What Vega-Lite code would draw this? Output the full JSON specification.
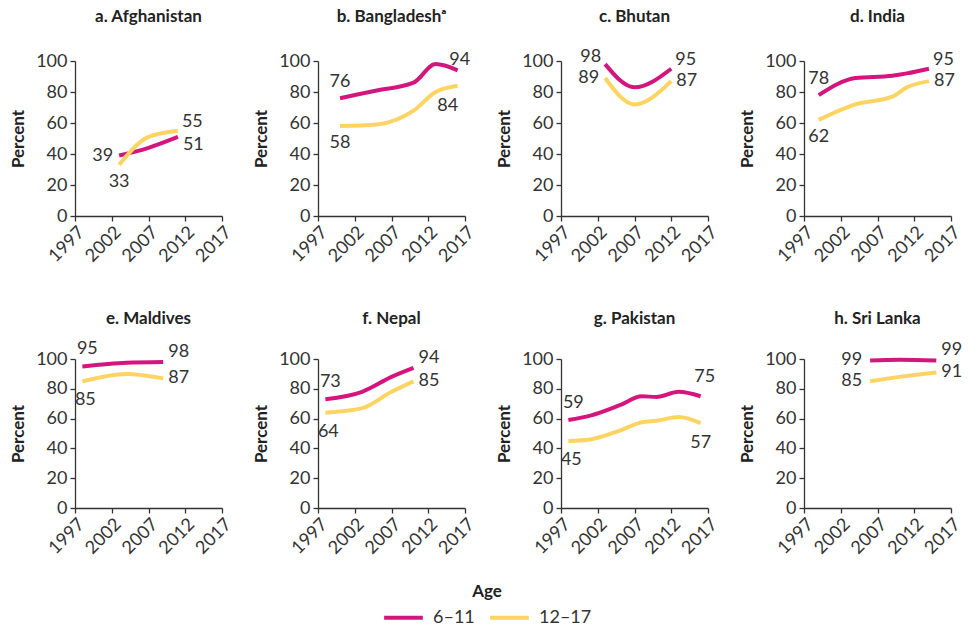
{
  "$schema": "https://vega.github.io/schema/vega-lite/v6.json",
  "background": "white",
  "padding": {"left": 9, "top": 8, "right": 5, "bottom": 0},
  "config": {
    "font": "Lato",
    "view": {"stroke": null},
    "axis": {
      "grid": false,
      "domainColor": "#333333",
      "tickColor": "#333333",
      "domainWidth": 1.3,
      "tickWidth": 1.3,
      "tickSize": 5,
      "labelColor": "#333333",
      "labelFontSize": 18,
      "labelFont": "Lato",
      "labelOverlap": false,
      "titleFont": "Lato",
      "titleFontSize": 17,
      "titleFontWeight": "bold",
      "titleColor": "#222222"
    },
    "legend": {"layout": {"bottom": {"anchor": "middle"}}},
    "header": {"labelFont": "Lato"},
    "text": {"font": "Lato", "fontSize": 18, "color": "#333333"}
  },
  "datasets": {
    "enrol": [
      {"country": "a. Afghanistan", "age": "6–11", "year": 2003, "value": 39},
      {"country": "a. Afghanistan", "age": "6–11", "year": 2007, "value": 44},
      {"country": "a. Afghanistan", "age": "6–11", "year": 2011, "value": 51},
      {"country": "a. Afghanistan", "age": "12–17", "year": 2003, "value": 33},
      {"country": "a. Afghanistan", "age": "12–17", "year": 2007, "value": 51},
      {"country": "a. Afghanistan", "age": "12–17", "year": 2011, "value": 55},
      {"country": "b. Bangladeshᵃ", "age": "6–11", "year": 2000, "value": 76},
      {"country": "b. Bangladeshᵃ", "age": "6–11", "year": 2005, "value": 81},
      {"country": "b. Bangladeshᵃ", "age": "6–11", "year": 2010, "value": 86},
      {"country": "b. Bangladeshᵃ", "age": "6–11", "year": 2013, "value": 98},
      {"country": "b. Bangladeshᵃ", "age": "6–11", "year": 2016, "value": 94},
      {"country": "b. Bangladeshᵃ", "age": "12–17", "year": 2000, "value": 58},
      {"country": "b. Bangladeshᵃ", "age": "12–17", "year": 2005, "value": 59},
      {"country": "b. Bangladeshᵃ", "age": "12–17", "year": 2010, "value": 68},
      {"country": "b. Bangladeshᵃ", "age": "12–17", "year": 2013, "value": 80},
      {"country": "b. Bangladeshᵃ", "age": "12–17", "year": 2016, "value": 84},
      {"country": "c. Bhutan", "age": "6–11", "year": 2003, "value": 98},
      {"country": "c. Bhutan", "age": "6–11", "year": 2007, "value": 83},
      {"country": "c. Bhutan", "age": "6–11", "year": 2012, "value": 95},
      {"country": "c. Bhutan", "age": "12–17", "year": 2003, "value": 89},
      {"country": "c. Bhutan", "age": "12–17", "year": 2007, "value": 72},
      {"country": "c. Bhutan", "age": "12–17", "year": 2012, "value": 87},
      {"country": "d. India", "age": "6–11", "year": 1999, "value": 78},
      {"country": "d. India", "age": "6–11", "year": 2004, "value": 89},
      {"country": "d. India", "age": "6–11", "year": 2009, "value": 90.5},
      {"country": "d. India", "age": "6–11", "year": 2011, "value": 92},
      {"country": "d. India", "age": "6–11", "year": 2014, "value": 95},
      {"country": "d. India", "age": "12–17", "year": 1999, "value": 62},
      {"country": "d. India", "age": "12–17", "year": 2004, "value": 72},
      {"country": "d. India", "age": "12–17", "year": 2009, "value": 77},
      {"country": "d. India", "age": "12–17", "year": 2011, "value": 83},
      {"country": "d. India", "age": "12–17", "year": 2014, "value": 87},
      {"country": "e. Maldives", "age": "6–11", "year": 1998, "value": 95},
      {"country": "e. Maldives", "age": "6–11", "year": 2004, "value": 97.5},
      {"country": "e. Maldives", "age": "6–11", "year": 2009, "value": 98},
      {"country": "e. Maldives", "age": "12–17", "year": 1998, "value": 85},
      {"country": "e. Maldives", "age": "12–17", "year": 2004, "value": 90},
      {"country": "e. Maldives", "age": "12–17", "year": 2009, "value": 87},
      {"country": "f. Nepal", "age": "6–11", "year": 1998, "value": 73},
      {"country": "f. Nepal", "age": "6–11", "year": 2003, "value": 78},
      {"country": "f. Nepal", "age": "6–11", "year": 2007, "value": 88},
      {"country": "f. Nepal", "age": "6–11", "year": 2010, "value": 94},
      {"country": "f. Nepal", "age": "12–17", "year": 1998, "value": 64},
      {"country": "f. Nepal", "age": "12–17", "year": 2003, "value": 67},
      {"country": "f. Nepal", "age": "12–17", "year": 2007, "value": 78},
      {"country": "f. Nepal", "age": "12–17", "year": 2010, "value": 85},
      {"country": "g. Pakistan", "age": "6–11", "year": 1998, "value": 59},
      {"country": "g. Pakistan", "age": "6–11", "year": 2001, "value": 62},
      {"country": "g. Pakistan", "age": "6–11", "year": 2005, "value": 69},
      {"country": "g. Pakistan", "age": "6–11", "year": 2008, "value": 75},
      {"country": "g. Pakistan", "age": "6–11", "year": 2010, "value": 74.5},
      {"country": "g. Pakistan", "age": "6–11", "year": 2013, "value": 78},
      {"country": "g. Pakistan", "age": "6–11", "year": 2016, "value": 75},
      {"country": "g. Pakistan", "age": "12–17", "year": 1998, "value": 45},
      {"country": "g. Pakistan", "age": "12–17", "year": 2001, "value": 46},
      {"country": "g. Pakistan", "age": "12–17", "year": 2005, "value": 52},
      {"country": "g. Pakistan", "age": "12–17", "year": 2008, "value": 57.5},
      {"country": "g. Pakistan", "age": "12–17", "year": 2010, "value": 58.5},
      {"country": "g. Pakistan", "age": "12–17", "year": 2013, "value": 61},
      {"country": "g. Pakistan", "age": "12–17", "year": 2016, "value": 57},
      {"country": "h. Sri Lanka", "age": "6–11", "year": 2006, "value": 99},
      {"country": "h. Sri Lanka", "age": "6–11", "year": 2010, "value": 99.5},
      {"country": "h. Sri Lanka", "age": "6–11", "year": 2015, "value": 99},
      {"country": "h. Sri Lanka", "age": "12–17", "year": 2006, "value": 85},
      {"country": "h. Sri Lanka", "age": "12–17", "year": 2010, "value": 88},
      {"country": "h. Sri Lanka", "age": "12–17", "year": 2015, "value": 91}
    ]
  },
  "data": {"name": "enrol"},
  "spacing": 44,
  "vconcat": [
    {
      "transform": [{"filter": "indexof(['a. Afghanistan','b. Bangladeshᵃ','c. Bhutan','d. India'], datum.country) >= 0"}],
      "bounds": "flush",
      "facet": {
        "field": "country",
        "type": "nominal",
        "header": {"title": null, "labelFontSize": 17, "labelFontWeight": "bold", "labelColor": "#222222", "labelPadding": 11}
      },
      "columns": 4,
      "spacing": {"column": 96, "row": 20},
      "resolve": {"axis": {"x": "independent", "y": "independent"}},
      "spec": {
        "width": 147,
        "height": 155,
        "resolve": {"axis": {"x": "independent"}},
        "encoding": {
          "x": {"field": "year", "type": "quantitative", "scale": {"domain": [1997, 2017], "nice": false, "zero": false}, "axis": null},
          "y": {
            "field": "value", "type": "quantitative",
            "scale": {"domain": [0, 100], "nice": false},
            "axis": {"title": "Percent", "values": [0, 20, 40, 60, 80, 100], "labelPadding": 3, "titlePadding": 8}
          }
        },
        "layer": [
          {
            "mark": {"type": "line", "interpolate": "monotone", "strokeWidth": 4},
            "encoding": {
              "x": {
                "field": "year", "type": "quantitative",
                "scale": {"domain": [1997, 2017], "nice": false, "zero": false},
                "axis": {"title": null, "values": [1997, 2002, 2007, 2012, 2017], "format": "d", "labelAngle": -45, "labelPadding": 2}
              },
              "color": {
                "field": "age", "type": "nominal",
                "scale": {"domain": ["6–11", "12–17"], "range": ["#d5157e", "#fdd462"]},
                "legend": {
                  "title": "Age", "orient": "bottom", "direction": "horizontal",
                  "titleOrient": "top", "titleAnchor": "middle",
                  "titleFontSize": 17, "titleFontWeight": "bold", "titleColor": "#222222", "titlePadding": -5,
                  "labelFontSize": 18, "labelColor": "#333333",
                  "symbolType": "stroke", "symbolStrokeWidth": 4, "symbolSize": 1500,
                  "columnPadding": 7, "labelOffset": 8, "offset": 26
                }
              }
            }
          },
          {
            "transform": [
              {"joinaggregate": [{"op": "min", "field": "year", "as": "y0"}], "groupby": ["country", "age"]},
              {"filter": "datum.year == datum.y0 && ((datum.country == 'a. Afghanistan' && datum.age == '6–11') || (datum.country == 'c. Bhutan' && datum.age == '12–17'))"}
            ],
            "mark": {"type": "text", "align": "right", "baseline": "middle", "dx": -6},
            "encoding": {
              "x": {
                "field": "year", "type": "quantitative",
                "scale": {"domain": [1997, 2017], "nice": false, "zero": false},
                "axis": {"orient": "top", "labels": false, "ticks": false, "domain": false, "title": "x", "titleOpacity": 0, "titleFontSize": 18, "titlePadding": 6}
              },
              "text": {"field": "value", "type": "quantitative", "format": ".0f"}
            }
          },
          {
            "transform": [
              {"joinaggregate": [{"op": "min", "field": "year", "as": "y0"}], "groupby": ["country", "age"]},
              {"filter": "datum.year == datum.y0 && datum.country == 'c. Bhutan' && datum.age == '6–11'"}
            ],
            "mark": {"type": "text", "align": "right", "baseline": "middle", "dx": -4, "dy": -7},
            "encoding": {"text": {"field": "value", "type": "quantitative", "format": ".0f"}}
          },
          {
            "transform": [
              {"joinaggregate": [{"op": "min", "field": "year", "as": "y0"}], "groupby": ["country", "age"]},
              {"filter": "datum.year == datum.y0 && datum.age == '6–11' && datum.country != 'a. Afghanistan' && datum.country != 'c. Bhutan'"}
            ],
            "mark": {"type": "text", "align": "center", "baseline": "middle", "dx": 0, "dy": -16},
            "encoding": {"text": {"field": "value", "type": "quantitative", "format": ".0f"}}
          },
          {
            "transform": [
              {"joinaggregate": [{"op": "min", "field": "year", "as": "y0"}], "groupby": ["country", "age"]},
              {"filter": "datum.year == datum.y0 && datum.age == '12–17' && datum.country != 'c. Bhutan'"}
            ],
            "mark": {"type": "text", "align": "center", "baseline": "middle", "dx": 0, "dy": 17},
            "encoding": {"text": {"field": "value", "type": "quantitative", "format": ".0f"}}
          },
          {
            "transform": [
              {"joinaggregate": [{"op": "max", "field": "year", "as": "y1"}], "groupby": ["country", "age"]},
              {"filter": "datum.year == datum.y1 && ((datum.country == 'a. Afghanistan' && datum.age == '12–17') || (datum.age == '6–11' && (datum.country == 'c. Bhutan' || datum.country == 'd. India')))"}
            ],
            "mark": {"type": "text", "align": "left", "baseline": "middle", "dx": 4, "dy": -9},
            "encoding": {"text": {"field": "value", "type": "quantitative", "format": ".0f"}}
          },
          {
            "transform": [
              {"joinaggregate": [{"op": "max", "field": "year", "as": "y1"}], "groupby": ["country", "age"]},
              {"filter": "datum.year == datum.y1 && datum.age == '12–17' && (datum.country == 'c. Bhutan' || datum.country == 'd. India')"}
            ],
            "mark": {"type": "text", "align": "left", "baseline": "middle", "dx": 5, "dy": 0},
            "encoding": {"text": {"field": "value", "type": "quantitative", "format": ".0f"}}
          },
          {
            "transform": [
              {"joinaggregate": [{"op": "max", "field": "year", "as": "y1"}], "groupby": ["country", "age"]},
              {"filter": "datum.year == datum.y1 && datum.country == 'a. Afghanistan' && datum.age == '6–11'"}
            ],
            "mark": {"type": "text", "align": "left", "baseline": "middle", "dx": 5, "dy": 8},
            "encoding": {"text": {"field": "value", "type": "quantitative", "format": ".0f"}}
          },
          {
            "transform": [
              {"joinaggregate": [{"op": "max", "field": "year", "as": "y1"}], "groupby": ["country", "age"]},
              {"filter": "datum.year == datum.y1 && datum.country == 'b. Bangladeshᵃ' && datum.age == '6–11'"}
            ],
            "mark": {"type": "text", "align": "center", "baseline": "middle", "dx": 2, "dy": -10},
            "encoding": {"text": {"field": "value", "type": "quantitative", "format": ".0f"}}
          },
          {
            "transform": [
              {"joinaggregate": [{"op": "max", "field": "year", "as": "y1"}], "groupby": ["country", "age"]},
              {"filter": "datum.year == datum.y1 && datum.age == '12–17' && datum.country == 'b. Bangladeshᵃ'"}
            ],
            "mark": {"type": "text", "align": "center", "baseline": "middle", "dx": -10, "dy": 20},
            "encoding": {"text": {"field": "value", "type": "quantitative", "format": ".0f"}}
          }
        ]
      }
    },
    {
      "transform": [{"filter": "indexof(['e. Maldives','f. Nepal','g. Pakistan','h. Sri Lanka'], datum.country) >= 0"}],
      "bounds": "flush",
      "facet": {
        "field": "country",
        "type": "nominal",
        "header": {"title": null, "labelFontSize": 17, "labelFontWeight": "bold", "labelColor": "#222222", "labelPadding": 7}
      },
      "columns": 4,
      "spacing": {"column": 96, "row": 20},
      "resolve": {"axis": {"x": "independent", "y": "independent"}},
      "spec": {
        "width": 147,
        "height": 149,
        "resolve": {"axis": {"x": "independent"}},
        "encoding": {
          "x": {"field": "year", "type": "quantitative", "scale": {"domain": [1997, 2017], "nice": false, "zero": false}, "axis": null},
          "y": {
            "field": "value", "type": "quantitative",
            "scale": {"domain": [0, 100], "nice": false},
            "axis": {"title": "Percent", "values": [0, 20, 40, 60, 80, 100], "labelPadding": 3, "titlePadding": 8}
          }
        },
        "layer": [
          {
            "mark": {"type": "line", "interpolate": "monotone", "strokeWidth": 4},
            "encoding": {
              "x": {
                "field": "year", "type": "quantitative",
                "scale": {"domain": [1997, 2017], "nice": false, "zero": false},
                "axis": {"title": null, "values": [1997, 2002, 2007, 2012, 2017], "format": "d", "labelAngle": -45, "labelPadding": 2}
              },
              "color": {
                "field": "age", "type": "nominal",
                "scale": {"domain": ["6–11", "12–17"], "range": ["#d5157e", "#fdd462"]},
                "legend": {
                  "title": "Age", "orient": "bottom", "direction": "horizontal",
                  "titleOrient": "top", "titleAnchor": "middle",
                  "titleFontSize": 17, "titleFontWeight": "bold", "titleColor": "#222222", "titlePadding": -5,
                  "labelFontSize": 18, "labelColor": "#333333",
                  "symbolType": "stroke", "symbolStrokeWidth": 4, "symbolSize": 1500,
                  "columnPadding": 7, "labelOffset": 8, "offset": 26
                }
              }
            }
          },
          {
            "transform": [
              {"joinaggregate": [{"op": "min", "field": "year", "as": "y0"}], "groupby": ["country", "age"]},
              {"filter": "datum.year == datum.y0 && datum.country == 'h. Sri Lanka'"}
            ],
            "mark": {"type": "text", "align": "right", "baseline": "middle", "dx": -8},
            "encoding": {
              "x": {
                "field": "year", "type": "quantitative",
                "scale": {"domain": [1997, 2017], "nice": false, "zero": false},
                "axis": {"orient": "top", "labels": false, "ticks": false, "domain": false, "title": "x", "titleOpacity": 0, "titleFontSize": 18, "titlePadding": 6}
              },
              "text": {"field": "value", "type": "quantitative", "format": ".0f"}
            }
          },
          {
            "transform": [
              {"joinaggregate": [{"op": "min", "field": "year", "as": "y0"}], "groupby": ["country", "age"]},
              {"filter": "datum.year == datum.y0 && datum.age == '6–11' && datum.country != 'h. Sri Lanka'"}
            ],
            "mark": {"type": "text", "align": "center", "baseline": "middle", "dx": 5, "dy": -17},
            "encoding": {"text": {"field": "value", "type": "quantitative", "format": ".0f"}}
          },
          {
            "transform": [
              {"joinaggregate": [{"op": "min", "field": "year", "as": "y0"}], "groupby": ["country", "age"]},
              {"filter": "datum.year == datum.y0 && datum.age == '12–17' && datum.country != 'h. Sri Lanka'"}
            ],
            "mark": {"type": "text", "align": "center", "baseline": "middle", "dx": 3, "dy": 19},
            "encoding": {"text": {"field": "value", "type": "quantitative", "format": ".0f"}}
          },
          {
            "transform": [
              {"joinaggregate": [{"op": "max", "field": "year", "as": "y1"}], "groupby": ["country", "age"]},
              {"filter": "datum.year == datum.y1 && datum.age == '6–11' && datum.country != 'g. Pakistan'"}
            ],
            "mark": {"type": "text", "align": "left", "baseline": "middle", "dx": 5, "dy": -10},
            "encoding": {"text": {"field": "value", "type": "quantitative", "format": ".0f"}}
          },
          {
            "transform": [
              {"joinaggregate": [{"op": "max", "field": "year", "as": "y1"}], "groupby": ["country", "age"]},
              {"filter": "datum.year == datum.y1 && datum.age == '12–17' && datum.country != 'g. Pakistan'"}
            ],
            "mark": {"type": "text", "align": "left", "baseline": "middle", "dx": 5, "dy": 0},
            "encoding": {"text": {"field": "value", "type": "quantitative", "format": ".0f"}}
          },
          {
            "transform": [
              {"joinaggregate": [{"op": "max", "field": "year", "as": "y1"}], "groupby": ["country", "age"]},
              {"filter": "datum.year == datum.y1 && datum.country == 'g. Pakistan' && datum.age == '6–11'"}
            ],
            "mark": {"type": "text", "align": "center", "baseline": "middle", "dx": 4, "dy": -19},
            "encoding": {"text": {"field": "value", "type": "quantitative", "format": ".0f"}}
          },
          {
            "transform": [
              {"joinaggregate": [{"op": "max", "field": "year", "as": "y1"}], "groupby": ["country", "age"]},
              {"filter": "datum.year == datum.y1 && datum.country == 'g. Pakistan' && datum.age == '12–17'"}
            ],
            "mark": {"type": "text", "align": "center", "baseline": "middle", "dx": 0, "dy": 20},
            "encoding": {"text": {"field": "value", "type": "quantitative", "format": ".0f"}}
          }
        ]
      }
    }
  ]
}
